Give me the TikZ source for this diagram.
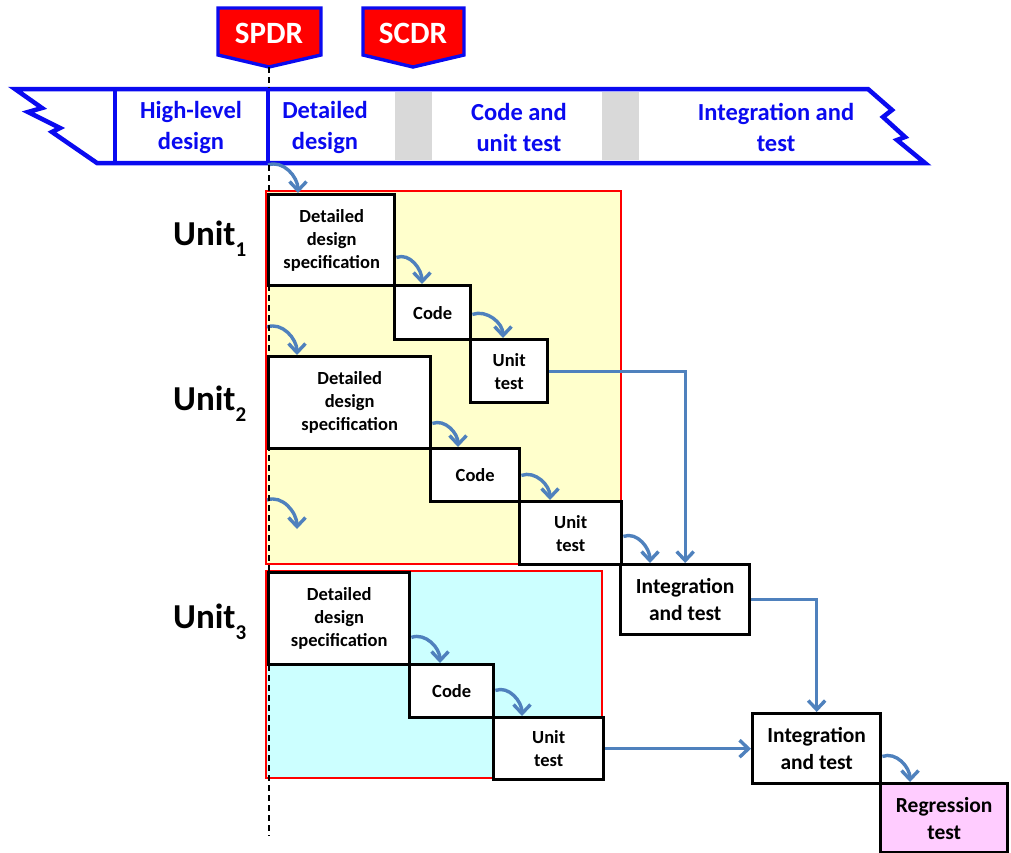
\documentclass[tikz,border=0pt]{standalone}
\usepackage{fontspec}
\setmainfont{Carlito}
\usetikzlibrary{arrows.meta,calc}

\definecolor{bandblue}{RGB}{10,10,240}
\definecolor{flowblue}{RGB}{79,129,189}
\definecolor{unitA}{RGB}{255,255,204}
\definecolor{unitB}{RGB}{204,255,255}
\definecolor{regpink}{RGB}{255,204,255}
\definecolor{gapgray}{RGB}{217,217,217}

\tikzset{
  stepbox/.style={draw=black, line width=3.4pt, fill=white, anchor=north west,
    inner sep=0pt, align=center, font=\fontsize{18.5}{23}\selectfont\bfseries},
  bigbox/.style={stepbox, font=\fontsize{21.5}{27}\selectfont\bfseries},
  flow/.style={draw=flowblue, line width=3.4pt,
    -{Straight Barb[length=9pt,width=17pt]}},
  phase/.style={text=bandblue, inner sep=0pt, align=center,
    font=\fontsize{24.5}{31}\selectfont\bfseries},
  unitlabel/.style={anchor=base west, inner sep=0pt,
    font=\fontsize{35}{35}\selectfont\bfseries},
  gate/.style={fill=red, draw=bandblue, line width=3.4pt, line join=miter},
  gatelabel/.style={text=white, anchor=base, inner sep=0pt,
    font=\fontsize{31}{31}\selectfont\bfseries},
  unitarea/.style={draw=red, line width=2.6pt},
  milestone/.style={black, line width=2pt, dash pattern=on 6pt off 4pt},
}

\newcommand{\unitsub}[1]{\raisebox{-11pt}{\fontsize{21}{21}\selectfont #1}}

\begin{document}
\begin{tikzpicture}[x=1pt,y=-1pt]
\useasboundingbox (0,0) rectangle (1011,852);

% phase banner
\fill[white] (15,89) -- (868,89) -- (892,110) -- (883,117) -- (905,137)
  -- (897,140) -- (925,163) -- (97,163) -- (52,132) -- (60,128)
  -- (28,112) -- (42,108) -- cycle;
\fill[gapgray] (395,92) rectangle (432,160);
\fill[gapgray] (602,92) rectangle (639,160);
\draw[bandblue, line width=4.5pt, line join=miter]
  (15,89) -- (868,89) -- (892,110) -- (883,117) -- (905,137)
  -- (897,140) -- (925,163) -- (97,163) -- (52,132) -- (60,128)
  -- (28,112) -- (42,108) -- cycle;
\draw[bandblue, line width=4.5pt] (115,89) -- (115,163);
\draw[bandblue, line width=4.5pt] (268,89) -- (268,163);
\coordinate (divB) at (268,165);

\node[phase] (ph1) at (191,127) {High-level\\design};
\node[phase] (ph2) at (325,127) {Detailed\\design};
\node[phase] (ph3) at (519,127) {Code and\\unit test};
\node[phase] (ph4) at (776,127) {Integration and\\test};

% review gates
\draw[gate] (218,8) -- (321,8) -- (321,55) -- (269,67) -- (218,55) -- cycle;
\node[gatelabel] (spdr) at (269,43) {SPDR};
\draw[gate] (363,8) -- (464,8) -- (464,55) -- (413,67) -- (363,55) -- cycle;
\node[gatelabel] (scdr) at (413,43) {SCDR};
\coordinate (spdrtip) at (268.5,67);
\coordinate (bandtop) at (268.5,88);
\coordinate (bandbot) at (268.5,165);
\coordinate (dashend) at (268.5,836);

% unit work areas
\draw[unitarea, fill=unitA] (266,191) rectangle (621,564);
\draw[unitarea, fill=unitB] (266,571) rectangle (602,778);

% unit labels
\node[unitlabel] (u1) at (173,245) {Unit\unitsub{1}};
\node[unitlabel] (u2) at (173,410) {Unit\unitsub{2}};
\node[unitlabel] (u3) at (173,628) {Unit\unitsub{3}};

% unit 1
\node[stepbox, minimum width=126pt, minimum height=91pt] (dds1) at (267,193) {Detailed\\design\\specification};
\node[stepbox, minimum width=76pt, minimum height=54pt] (code1) at (393,284) {Code};
\node[stepbox, minimum width=77pt, minimum height=63pt] (ut1) at (469,338) {Unit\\test};
% unit 2
\node[stepbox, minimum width=162pt, minimum height=92pt] (dds2) at (267,355) {Detailed\\design\\specification};
\node[stepbox, minimum width=89pt, minimum height=53pt] (code2) at (429,447) {Code};
\node[stepbox, minimum width=102pt, minimum height=63pt] (ut2) at (518,500) {Unit\\test};
% unit 3
\node[stepbox, minimum width=141pt, minimum height=92pt] (dds3) at (267,571) {Detailed\\design\\specification};
\node[stepbox, minimum width=84pt, minimum height=53pt] (code3) at (408,663) {Code};
\node[stepbox, minimum width=110pt, minimum height=62pt] (ut3) at (492,716) {Unit\\test};
% integration
\node[bigbox, minimum width=129pt, minimum height=70pt] (it1) at (619,563) {Integration\\and test};
\node[bigbox, minimum width=128pt, minimum height=70pt] (it2) at (751,712) {Integration\\and test};
\node[bigbox, fill=regpink, minimum width=127pt, minimum height=69pt] (reg) at (879,782) {Regression\\test};

\coordinate (loopA) at (267,500);
\coordinate (loopB) at (297,529);

% curved hand-offs
\draw[flow] (divB) to[out=20,in=90] ([xshift=31pt]dds1.north west);
\draw[flow] ([yshift=30pt]dds1.south east) to[out=20,in=90] ([xshift=29pt]code1.north west);
\draw[flow] ([yshift=27pt]code1.south east) to[out=20,in=90] ([xshift=34pt]ut1.north west);
\draw[flow] ([yshift=28pt]dds2.north west) to[out=20,in=90] ([xshift=30pt]dds2.north west);
\draw[flow] ([yshift=27pt]dds2.south east) to[out=20,in=90] ([xshift=29pt]code2.north west);
\draw[flow] ([yshift=28pt]code2.south east) to[out=20,in=90] ([xshift=32pt]ut2.north west);
\draw[flow] (loopA) to[out=20,in=90] (loopB);
\draw[flow] ([yshift=30pt]ut2.south east) to[out=20,in=90] ([xshift=31pt]it1.north west);
\draw[flow] ([yshift=29pt]dds3.south east) to[out=20,in=90] ([xshift=32pt]code3.north west);
\draw[flow] ([yshift=29pt]code3.south east) to[out=20,in=90] ([xshift=30pt]ut3.north west);
\draw[flow] ([yshift=29pt]it2.south east) to[out=20,in=90] ([xshift=31pt]reg.north west);

% straight hand-offs
\draw[flow] (ut1.east) -| (it1.north);
\draw[flow] (it1.east) -| (it2.north);
\draw[flow] (ut3.east) -- (it2.west);

% SPDR milestone line
\draw[milestone] (spdrtip) -- (bandtop);
\draw[milestone] (bandbot) -- (dashend);
\end{tikzpicture}
\end{document}
